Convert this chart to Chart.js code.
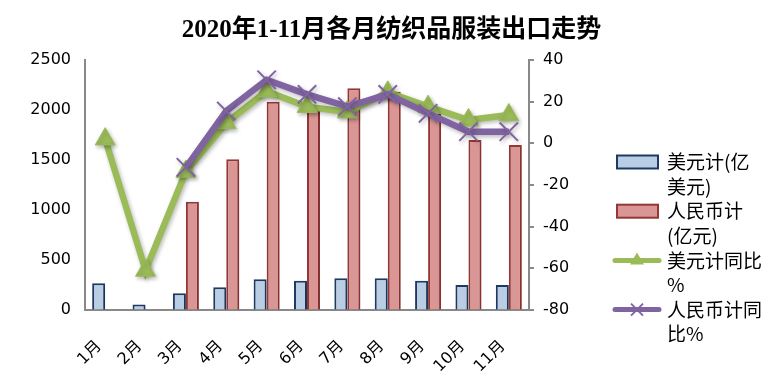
<!DOCTYPE html>
<html><head><meta charset="utf-8">
<script src="https://cdn.jsdelivr.net/npm/chart.js@4.4.0/dist/chart.umd.min.js"></script>
<style>html,body{margin:0;padding:0;background:#fff;}#wrap{width:783px;height:383px;position:relative;}</style>
</head><body><div id="wrap"><canvas id="c" width="783" height="383"></canvas></div>
<script>
// ---- data ----
const chartTitle = '2020年1-11月各月纺织品服装出口走势';
const categories = ['1月','2月','3月','4月','5月','6月','7月','8月','9月','10月','11月'];
const usdValues = [267, 55, 167, 227, 307, 293, 317, 317, 293, 250, 250];
const rmbValues = [null, null, 1083, 1507, 2083, 2040, 2217, 2183, 1960, 1700, 1650];
const usdYoY = [2, -61, -13.5, 9.8, 25, 17.6, 15, 24.5, 17.6, 11.2, 13.6];
const rmbYoY = [null, null, -11.5, 15.5, 30.5, 23.5, 17.6, 23.5, 14.4, 5.6, 5.6];
const seriesNames = ['美元计(亿美元)', '人民币计(亿元)', '美元计同比%', '人民币计同比%'];
const legendLines = [['美元计(亿', '美元)'], ['人民币计', '(亿元)'], ['美元计同比', '%'], ['人民币计同', '比%']];
const leftAxisRange = {min: 0, max: 2500, step: 500};
const rightAxisRange = {min: -80, max: 40, step: 20};

const tickFont = {family: '"DejaVu Sans", "Noto Sans CJK SC", sans-serif', size: 16};
const axisGray = '#898989';

const shadowPlugin = {
  id: 'shadow',
  beforeDatasetDraw(chart, args) {
    const ctx = chart.ctx;
    ctx.save();
    const isLine = chart.data.datasets[args.index].type === 'line';
    ctx.shadowColor = isLine ? 'rgba(0,0,0,0.28)' : 'rgba(0,0,0,0.18)';
    ctx.shadowBlur = isLine ? 4 : 3;
    ctx.shadowOffsetX = 1.5;
    ctx.shadowOffsetY = 2;
  },
  afterDatasetDraw(chart) { chart.ctx.restore(); }
};

const legendPlugin = {
  id: 'customLegend',
  afterDraw(chart) {
    const ctx = chart.ctx;
    const ds = chart.data.datasets;
    const textX = 667, firstY = 162, lh = 24.6;
    ctx.save();
    ctx.font = '19px "Noto Sans CJK SC", sans-serif';
    ctx.textBaseline = 'middle';
    ctx.textAlign = 'left';
    let row = 0;
    legendLines.forEach((lines, i) => {
      const y = firstY + row * lh;
      const d = ds[i];
      if (d.type === 'bar') {
        ctx.fillStyle = d.backgroundColor;
        ctx.strokeStyle = d.borderColor;
        ctx.lineWidth = 2;
        ctx.fillRect(617, y - 6.5, 41, 13);
        ctx.strokeRect(617, y - 6.5, 41, 13);
      } else {
        ctx.strokeStyle = d.borderColor;
        ctx.lineWidth = 5;
        ctx.lineCap = 'round';
        ctx.beginPath(); ctx.moveTo(615, y); ctx.lineTo(659, y); ctx.stroke();
        ctx.lineCap = 'butt';
        ctx.fillStyle = d.pointBackgroundColor;
        ctx.strokeStyle = d.pointBorderColor;
        ctx.lineWidth = 2;
        ctx.beginPath();
        if (d.pointStyle === 'triangle') {
          ctx.moveTo(637, y - 8); ctx.lineTo(644, y + 4); ctx.lineTo(630, y + 4); ctx.closePath(); ctx.fill();
        } else {
          ctx.moveTo(631, y - 6); ctx.lineTo(643, y + 6); ctx.moveTo(643, y - 6); ctx.lineTo(631, y + 6); ctx.stroke();
        }
      }
      ctx.fillStyle = '#000';
      lines.forEach((t, k) => ctx.fillText(t, textX, firstY + (row + k) * lh));
      row += lines.length;
    });
    ctx.restore();
  }
};

new Chart(document.getElementById('c'), {
  data: {
    labels: categories,
    datasets: [
      {type: 'bar', label: seriesNames[0], data: usdValues, yAxisID: 'y', order: 2,
       backgroundColor: '#B9CDE5', borderColor: '#1F3A60', borderWidth: 2,
       categoryPercentage: 0.645, barPercentage: 1},
      {type: 'bar', label: seriesNames[1], data: rmbValues, yAxisID: 'y', order: 2,
       backgroundColor: '#DA9694', borderColor: '#953735', borderWidth: 2,
       categoryPercentage: 0.645, barPercentage: 1},
      {type: 'line', label: seriesNames[2], data: usdYoY, yAxisID: 'y1', order: 1,
       borderColor: '#9BBB59', backgroundColor: '#9BBB59', borderWidth: 6.5,
       pointStyle: 'triangle', pointRadius: 11.5, pointBackgroundColor: '#9BBB59',
       pointBorderColor: '#9BBB59', pointBorderWidth: 1, tension: 0, spanGaps: false},
      {type: 'line', label: seriesNames[3], data: rmbYoY, yAxisID: 'y1', order: 0,
       borderColor: '#8064A2', backgroundColor: '#8064A2', borderWidth: 6.5,
       pointStyle: 'crossRot', pointRadius: 13, pointBackgroundColor: '#8064A2',
       pointBorderColor: '#8064A2', pointBorderWidth: 2, tension: 0, spanGaps: false}
    ]
  },
  options: {
    responsive: false,
    animation: false,
    layout: {padding: {left: 0, right: 0, top: 0, bottom: 0}},
    plugins: {
      legend: {display: false},
      tooltip: {enabled: false},
      title: {display: true, text: chartTitle, color: '#000',
        font: {family: '"Liberation Serif", "Noto Sans CJK SC", serif', size: 25, weight: 'bold', lineHeight: 1.2},
        padding: {top: 16, bottom: 14}}
    },
    scales: {
      x: {
        offset: true,
        grid: {display: true, drawOnChartArea: false, drawTicks: false},
        border: {display: true, color: axisGray, width: 2},
        ticks: {color: '#000', font: tickFont, minRotation: 45, maxRotation: 45, padding: 27, labelOffset: -6, autoSkip: false},
        afterFit(s) { s.height = 73; }
      },
      y: {
        position: 'left', min: leftAxisRange.min, max: leftAxisRange.max,
        grid: {display: true, drawOnChartArea: false, drawTicks: false},
        border: {display: true, color: axisGray, width: 2},
        ticks: {stepSize: leftAxisRange.step, color: '#000', font: tickFont, padding: 14,
          callback: v => String(v)},
        afterFit(s) { s.width = 85; }
      },
      y1: {
        position: 'right', min: rightAxisRange.min, max: rightAxisRange.max,
        grid: {display: true, drawOnChartArea: false, drawTicks: true, tickLength: 5, color: axisGray, lineWidth: 2},
        border: {display: true, color: axisGray, width: 2},
        ticks: {stepSize: rightAxisRange.step, color: '#000', font: tickFont, padding: 9,
          callback: v => String(v)},
        afterFit(s) { s.width = 254; }
      }
    }
  },
  plugins: [shadowPlugin, legendPlugin]
});
</script>
</body></html>
